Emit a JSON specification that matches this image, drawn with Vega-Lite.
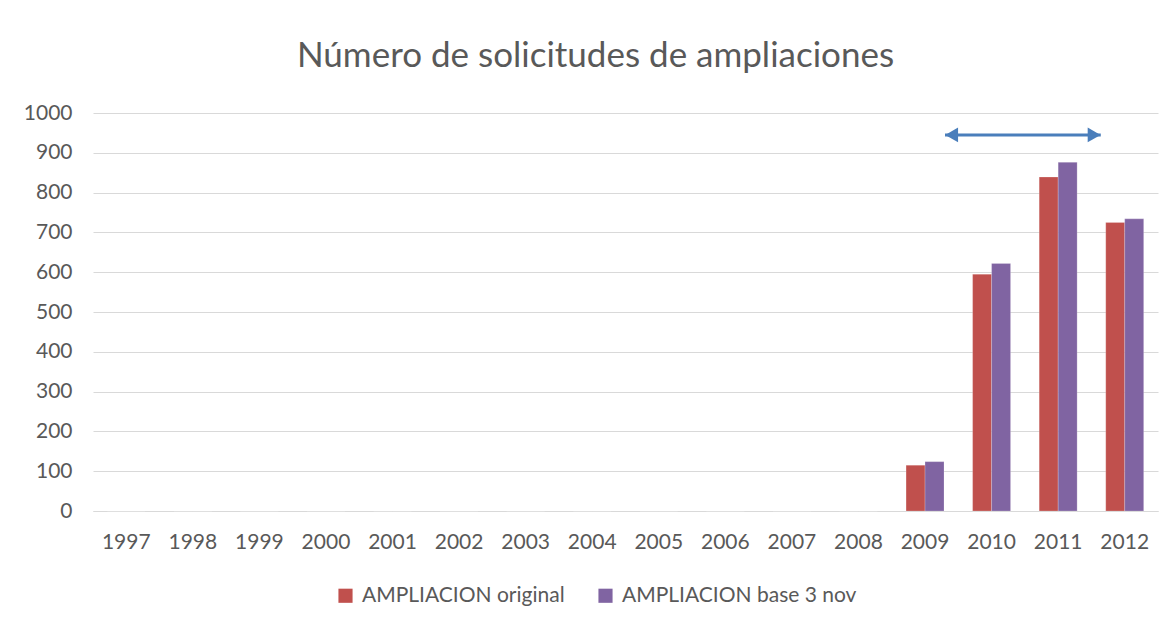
{
  "$schema": "https://vega.github.io/schema/vega-lite/v6.json",
  "width": 1065,
  "height": 398,
  "autosize": {"type": "none"},
  "padding": {"left": 93, "top": 113, "right": 17, "bottom": 124},
  "background": "white",
  "title": {
    "text": "Número de solicitudes de ampliaciones",
    "font": "Lato",
    "fontSize": 35,
    "fontWeight": "normal",
    "color": "#595959",
    "anchor": "middle",
    "dx": -30,
    "offset": 28
  },
  "config": {
    "view": {"stroke": null},
    "font": "Lato",
    "axis": {
      "labelFont": "Lato",
      "labelFontSize": 21,
      "labelColor": "#595959",
      "gridColor": "#d9d9d9",
      "gridWidth": 1,
      "ticks": false,
      "title": null
    },
    "legend": {"labelFont": "Lato", "labelFontSize": 21, "labelColor": "#595959", "labelLimit": 0}
  },
  "encoding": {
    "y": {
      "field": "value",
      "type": "quantitative",
      "scale": {"domain": [0, 1000], "nice": false},
      "axis": {"values": [0, 100, 200, 300, 400, 500, 600, 700, 800, 900, 1000], "tickCount": 20, "format": "d", "labelOverlap": false, "domain": false, "labelPadding": 21, "grid": true}
    }
  },
  "resolve": {"scale": {"x": "independent"}, "axis": {"x": "independent"}},
  "layer": [
    {
      "data": {
        "values": [
          {"year": "1997", "series": "AMPLIACION original", "value": 0},
          {"year": "1997", "series": "AMPLIACION base 3 nov", "value": 0},
          {"year": "1998", "series": "AMPLIACION original", "value": 0},
          {"year": "1998", "series": "AMPLIACION base 3 nov", "value": 0},
          {"year": "1999", "series": "AMPLIACION original", "value": 0},
          {"year": "1999", "series": "AMPLIACION base 3 nov", "value": 0},
          {"year": "2000", "series": "AMPLIACION original", "value": 0},
          {"year": "2000", "series": "AMPLIACION base 3 nov", "value": 0},
          {"year": "2001", "series": "AMPLIACION original", "value": 0},
          {"year": "2001", "series": "AMPLIACION base 3 nov", "value": 0},
          {"year": "2002", "series": "AMPLIACION original", "value": 0},
          {"year": "2002", "series": "AMPLIACION base 3 nov", "value": 0},
          {"year": "2003", "series": "AMPLIACION original", "value": 0},
          {"year": "2003", "series": "AMPLIACION base 3 nov", "value": 0},
          {"year": "2004", "series": "AMPLIACION original", "value": 0},
          {"year": "2004", "series": "AMPLIACION base 3 nov", "value": 0},
          {"year": "2005", "series": "AMPLIACION original", "value": 0},
          {"year": "2005", "series": "AMPLIACION base 3 nov", "value": 0},
          {"year": "2006", "series": "AMPLIACION original", "value": 0},
          {"year": "2006", "series": "AMPLIACION base 3 nov", "value": 0},
          {"year": "2007", "series": "AMPLIACION original", "value": 0},
          {"year": "2007", "series": "AMPLIACION base 3 nov", "value": 0},
          {"year": "2008", "series": "AMPLIACION original", "value": 0},
          {"year": "2008", "series": "AMPLIACION base 3 nov", "value": 0},
          {"year": "2009", "series": "AMPLIACION original", "value": 115},
          {"year": "2009", "series": "AMPLIACION base 3 nov", "value": 124},
          {"year": "2010", "series": "AMPLIACION original", "value": 595},
          {"year": "2010", "series": "AMPLIACION base 3 nov", "value": 622},
          {"year": "2011", "series": "AMPLIACION original", "value": 839},
          {"year": "2011", "series": "AMPLIACION base 3 nov", "value": 876},
          {"year": "2012", "series": "AMPLIACION original", "value": 725},
          {"year": "2012", "series": "AMPLIACION base 3 nov", "value": 734}
        ]
      },
      "mark": {"type": "bar", "stroke": "white", "strokeOpacity": 0.4, "strokeWidth": 0.5},
      "encoding": {
        "x": {
          "field": "year",
          "type": "nominal",
          "sort": null,
          "scale": {"paddingInner": 0.43, "paddingOuter": 0.215},
          "axis": {"labelAngle": 0, "labelPadding": 20, "domainColor": "#d9d9d9", "domainWidth": 1, "grid": false, "labelOverlap": false}
        },
        "xOffset": {
          "field": "series",
          "type": "nominal",
          "sort": ["AMPLIACION original", "AMPLIACION base 3 nov"]
        },
        "color": {
          "field": "series",
          "type": "nominal",
          "sort": ["AMPLIACION original", "AMPLIACION base 3 nov"],
          "scale": {"domain": ["AMPLIACION original", "AMPLIACION base 3 nov"], "range": ["#C0504D", "#8064A2"]},
          "legend": {
            "title": null,
            "orient": "none",
            "direction": "horizontal",
            "legendX": 242,
            "legendY": 472,
            "symbolType": "square",
            "symbolSize": 200,
            "symbolStrokeWidth": 0,
            "columnPadding": 30,
            "labelOffset": 6
          }
        }
      }
    },
    {
      "data": {"values": [{"a1": 12.8, "a2": 15.14, "value": 945}]},
      "mark": {"type": "rule", "color": "#4A7EBB", "strokeWidth": 3},
      "encoding": {
        "x": {"field": "a1", "type": "quantitative", "scale": {"domain": [0, 16], "nice": false, "zero": false}, "axis": null},
        "x2": {"field": "a2"}
      }
    },
    {
      "data": {"values": [{"ax": 12.9, "value": 945, "dir": "left"}, {"ax": 15.04, "value": 945, "dir": "right"}]},
      "mark": {"type": "point", "filled": true, "color": "#4A7EBB", "opacity": 1, "size": 220},
      "encoding": {
        "x": {"field": "ax", "type": "quantitative", "scale": {"domain": [0, 16], "nice": false, "zero": false}, "axis": null},
        "shape": {
          "field": "dir",
          "type": "nominal",
          "scale": {"domain": ["left", "right"], "range": ["triangle-left", "triangle-right"]},
          "legend": null
        }
      }
    }
  ]
}
